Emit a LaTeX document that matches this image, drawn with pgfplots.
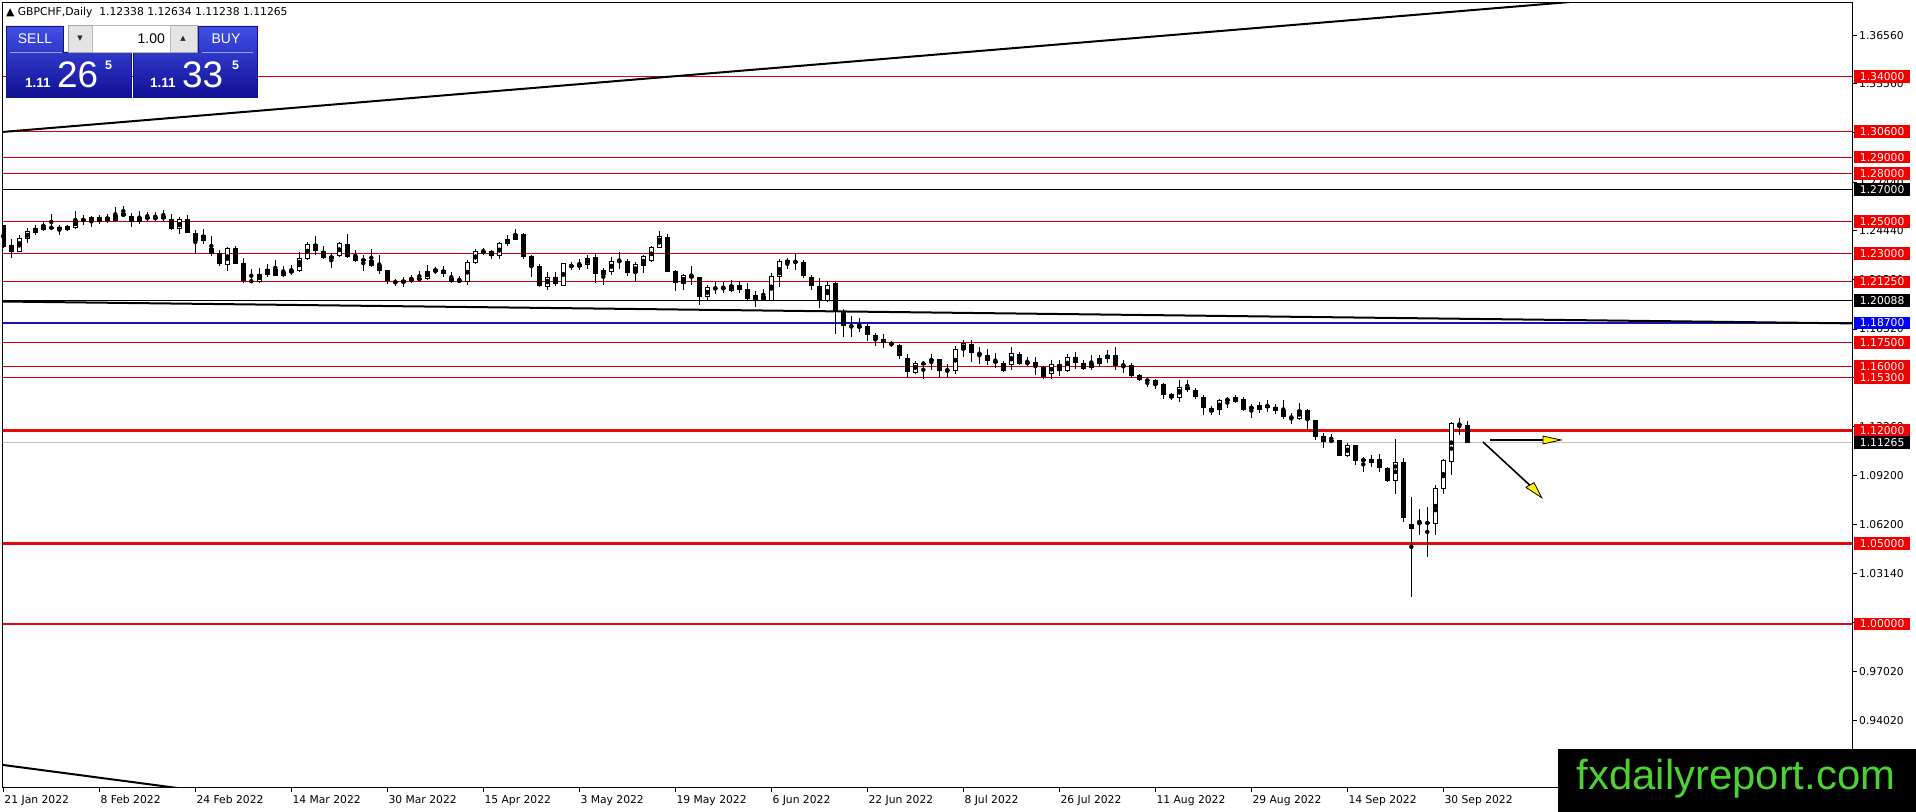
\documentclass[border=0pt]{standalone}
\usepackage{pgfplots}
\pgfplotsset{compat=1.18}
\usepackage{pgfplotstable}
\usepackage{fontspec}
\setmainfont{DejaVu Sans}
\newfontfamily\arialfont{Liberation Sans}
\definecolor{thinred}{RGB}{215,0,0}
\definecolor{thickred}{RGB}{228,10,10}
\definecolor{labred}{RGB}{240,0,0}
\definecolor{labblue}{RGB}{0,0,255}
\definecolor{lineblue}{RGB}{20,20,190}
\definecolor{bidgray}{RGB}{192,192,192}
\definecolor{paneltop}{RGB}{66,80,232}
\definecolor{panelbot}{RGB}{16,16,148}
\definecolor{paneledge}{RGB}{20,20,120}
\definecolor{sepblue}{RGB}{150,160,250}
\definecolor{ctrlfill}{RGB}{228,228,228}
\definecolor{ctrledge}{RGB}{165,165,165}
\definecolor{fieldedge}{RGB}{185,185,185}
\definecolor{arrowgray}{RGB}{40,40,40}
\definecolor{logogreen}{RGB}{75,210,50}
\newcommand{\pxfont}{\fontsize{10.8}{13}\selectfont}

\pgfplotstableread{
i o h l c
0 1.2476 1.2480 1.2336 1.2342
1 1.2352 1.2393 1.2276 1.2311
2 1.2311 1.2418 1.2311 1.2393
3 1.2393 1.2459 1.2366 1.2439
4 1.2434 1.2480 1.2418 1.2459
5 1.2451 1.2506 1.2439 1.2476
6 1.2465 1.2548 1.2447 1.2457
7 1.2465 1.2480 1.2418 1.2447
8 1.2449 1.2480 1.2443 1.2467
9 1.2465 1.2564 1.2455 1.2506
10 1.2513 1.2542 1.2480 1.2504
11 1.2531 1.2537 1.2465 1.2500
12 1.2500 1.2542 1.2484 1.2525
13 1.2525 1.2548 1.2492 1.2502
14 1.2506 1.2593 1.2496 1.2537
15 1.2537 1.2599 1.2529 1.2548
16 1.2537 1.2554 1.2465 1.2496
17 1.2500 1.2564 1.2484 1.2523
18 1.2523 1.2562 1.2504 1.2521
19 1.2521 1.2558 1.2502 1.2523
20 1.2531 1.2574 1.2506 1.2517
21 1.2517 1.2544 1.2445 1.2451
22 1.2455 1.2531 1.2424 1.2511
23 1.2513 1.2542 1.2428 1.2430
24 1.2430 1.2445 1.2300 1.2379
25 1.2383 1.2455 1.2358 1.2410
26 1.2338 1.2410 1.2286 1.2300
27 1.2307 1.2321 1.2224 1.2233
28 1.2233 1.2342 1.2195 1.2331
29 1.2336 1.2346 1.2235 1.2239
30 1.2243 1.2274 1.2121 1.2130
31 1.2132 1.2208 1.2119 1.2127
32 1.2130 1.2212 1.2115 1.2171
33 1.2171 1.2233 1.2156 1.2204
34 1.2204 1.2263 1.2161 1.2163
35 1.2163 1.2224 1.2156 1.2183
36 1.2181 1.2228 1.2167 1.2198
37 1.2193 1.2311 1.2187 1.2269
38 1.2269 1.2372 1.2263 1.2356
39 1.2358 1.2413 1.2290 1.2317
40 1.2317 1.2345 1.2269 1.2275
41 1.2269 1.2304 1.2214 1.2284
42 1.2286 1.2372 1.2280 1.2362
43 1.2362 1.2420 1.2275 1.2280
44 1.2284 1.2325 1.2249 1.2255
45 1.2263 1.2290 1.2193 1.2259
46 1.2263 1.2331 1.2218 1.2222
47 1.2228 1.2290 1.2177 1.2193
48 1.2197 1.2201 1.2111 1.2129
49 1.2129 1.2146 1.2098 1.2119
50 1.2119 1.2156 1.2094 1.2135
51 1.2131 1.2166 1.2121 1.2146
52 1.2142 1.2191 1.2129 1.2144
53 1.2146 1.2228 1.2135 1.2191
54 1.2187 1.2218 1.2177 1.2201
55 1.2201 1.2222 1.2156 1.2177
56 1.2146 1.2187 1.2121 1.2125
57 1.2131 1.2160 1.2115 1.2133
58 1.2129 1.2263 1.2105 1.2243
59 1.2245 1.2331 1.2234 1.2311
60 1.2311 1.2337 1.2294 1.2313
61 1.2315 1.2325 1.2269 1.2286
62 1.2286 1.2372 1.2269 1.2362
63 1.2362 1.2413 1.2345 1.2387
64 1.2387 1.2451 1.2383 1.2420
65 1.2424 1.2428 1.2269 1.2280
66 1.2284 1.2290 1.2156 1.2218
67 1.2222 1.2238 1.2094 1.2098
68 1.2098 1.2187 1.2074 1.2150
69 1.2156 1.2187 1.2098 1.2111
70 1.2105 1.2243 1.2098 1.2238
71 1.2222 1.2249 1.2201 1.2224
72 1.2218 1.2269 1.2201 1.2234
73 1.2232 1.2294 1.2208 1.2273
74 1.2277 1.2302 1.2115 1.2173
75 1.2173 1.2209 1.2105 1.2194
76 1.2192 1.2281 1.2167 1.2250
77 1.2256 1.2312 1.2204 1.2250
78 1.2256 1.2267 1.2161 1.2182
79 1.2182 1.2250 1.2122 1.2233
80 1.2229 1.2291 1.2182 1.2281
81 1.2260 1.2349 1.2250 1.2337
82 1.2337 1.2440 1.2333 1.2405
83 1.2405 1.2420 1.2188 1.2188
84 1.2194 1.2198 1.2068 1.2120
85 1.2115 1.2173 1.2074 1.2167
86 1.2167 1.2225 1.2105 1.2147
87 1.2153 1.2157 1.1981 1.2029
88 1.2033 1.2105 1.2012 1.2089
89 1.2089 1.2122 1.2047 1.2080
90 1.2089 1.2126 1.2053 1.2080
91 1.2074 1.2136 1.2060 1.2105
92 1.2105 1.2132 1.2053 1.2074
93 1.2078 1.2120 1.2012 1.2018
94 1.2018 1.2068 1.1966 1.2039
95 1.2039 1.2078 1.2012 1.2012
96 1.2012 1.2178 1.2012 1.2157
97 1.2157 1.2267 1.2091 1.2250
98 1.2244 1.2271 1.2204 1.2256
99 1.2256 1.2298 1.2198 1.2244
100 1.2246 1.2260 1.2147 1.2161
101 1.2157 1.2167 1.2074 1.2101
102 1.2101 1.2147 1.1960 1.2008
103 1.2008 1.2132 1.2002 1.2105
104 1.2115 1.2122 1.1799 1.1940
105 1.1940 1.1954 1.1784 1.1850
106 1.1853 1.1915 1.1780 1.1846
107 1.1846 1.1898 1.1815 1.1848
108 1.1850 1.1863 1.1759 1.1795
109 1.1795 1.1809 1.1726 1.1764
110 1.1768 1.1799 1.1716 1.1747
111 1.1747 1.1756 1.1721 1.1735
112 1.1731 1.1737 1.1648 1.1663
113 1.1654 1.1679 1.1534 1.1565
114 1.1565 1.1634 1.1555 1.1621
115 1.1623 1.1634 1.1524 1.1613
116 1.1636 1.1675 1.1580 1.1640
117 1.1644 1.1648 1.1534 1.1572
118 1.1574 1.1613 1.1534 1.1576
119 1.1572 1.1725 1.1555 1.1704
120 1.1704 1.1762 1.1658 1.1741
121 1.1737 1.1762 1.1627 1.1683
122 1.1685 1.1721 1.1617 1.1673
123 1.1669 1.1710 1.1607 1.1634
124 1.1634 1.1683 1.1590 1.1623
125 1.1623 1.1634 1.1565 1.1572
126 1.1611 1.1721 1.1580 1.1679
127 1.1679 1.1690 1.1607 1.1613
128 1.1617 1.1658 1.1600 1.1627
129 1.1627 1.1658 1.1545 1.1600
130 1.1596 1.1600 1.1524 1.1534
131 1.1555 1.1642 1.1524 1.1611
132 1.1613 1.1642 1.1543 1.1572
133 1.1572 1.1679 1.1565 1.1658
134 1.1658 1.1690 1.1586 1.1621
135 1.1621 1.1638 1.1580 1.1586
136 1.1596 1.1669 1.1580 1.1621
137 1.1621 1.1669 1.1600 1.1648
138 1.1652 1.1700 1.1621 1.1669
139 1.1669 1.1721 1.1580 1.1600
140 1.1605 1.1642 1.1559 1.1607
141 1.1607 1.1621 1.1528 1.1541
142 1.1545 1.1555 1.1509 1.1518
143 1.1518 1.1524 1.1472 1.1509
144 1.1514 1.1520 1.1458 1.1487
145 1.1493 1.1499 1.1396 1.1425
146 1.1431 1.1435 1.1389 1.1404
147 1.1406 1.1514 1.1379 1.1472
148 1.1472 1.1518 1.1440 1.1456
149 1.1456 1.1468 1.1395 1.1410
150 1.1410 1.1425 1.1297 1.1344
151 1.1322 1.1353 1.1297 1.1338
152 1.1332 1.1400 1.1297 1.1390
153 1.1390 1.1410 1.1340 1.1395
154 1.1385 1.1420 1.1375 1.1405
155 1.1400 1.1410 1.1324 1.1332
156 1.1340 1.1369 1.1282 1.1344
157 1.1332 1.1380 1.1311 1.1359
158 1.1359 1.1390 1.1318 1.1344
159 1.1349 1.1369 1.1307 1.1324
160 1.1328 1.1390 1.1276 1.1287
161 1.1285 1.1311 1.1241 1.1282
162 1.1276 1.1373 1.1270 1.1328
163 1.1328 1.1338 1.1208 1.1266
164 1.1266 1.1270 1.1142 1.1162
165 1.1166 1.1187 1.1096 1.1131
166 1.1142 1.1177 1.1125 1.1131
167 1.1142 1.1146 1.1042 1.1044
168 1.1044 1.1127 1.1038 1.1111
169 1.1111 1.1111 1.0986 1.1011
170 1.1015 1.1038 1.0945 1.1019
171 1.1003 1.1048 1.0976 1.1024
172 1.1024 1.1059 1.0945 1.0966
173 1.0970 1.0976 1.0883 1.0887
174 1.0889 1.1146 1.0810 1.1001
175 1.1007 1.1028 1.0634 1.0659
176 1.0593 1.0790 1.0169 1.0618
177 1.0626 1.0717 1.0552 1.0630
178 1.0630 1.0728 1.0417 1.0626
179 1.0624 1.0862 1.0552 1.0841
180 1.0841 1.1028 1.0810 1.1017
181 1.1007 1.1255 1.0924 1.1245
182 1.1241 1.1282 1.1177 1.1238
183 1.12338 1.12634 1.11238 1.11265
}\candles

\tikzset{plab/.style={anchor=west, inner xsep=5bp, inner ysep=2.4bp, text height=7.9bp, text depth=0bp, text=white, font=\pxfont, minimum width=56bp}}

\begin{document}
\begin{tikzpicture}
\useasboundingbox (0,0) rectangle (1916bp,812bp);
\begin{axis}[
  at={(2.7bp,24bp)}, anchor=south west,
  scale only axis, width=1849.3bp, height=785.5bp,
  xmin=-0.075, xmax=231.09, ymin=0.898137, ymax=1.386025,
  axis line style={black, line width=1bp},
  tick align=outside, major tick length=4.5bp,
  tick style={black, line width=1bp},
  xtick pos=left, ytick pos=right,
  xtick={0,12,...,180},
  xticklabels={21 Jan 2022,8 Feb 2022,24 Feb 2022,14 Mar 2022,30 Mar 2022,15 Apr 2022,3 May 2022,19 May 2022,6 Jun 2022,22 Jun 2022,8 Jul 2022,26 Jul 2022,11 Aug 2022,29 Aug 2022,14 Sep 2022,30 Sep 2022},
  ytick={0.9402,0.9702,1.0008,1.0314,1.062,1.092,1.1226,1.1532,1.1832,1.2138,1.2444,1.2744,1.305,1.3356,1.3656},
  yticklabels={0.94020,0.97020,1.00080,1.03140,1.06200,1.09200,1.12260,1.15320,1.18320,1.21380,1.24440,1.27440,1.30500,1.33560,1.36560},
  tick label style={font=\pxfont, black},
  xticklabel style={anchor=north west, inner sep=0pt, xshift=1bp, yshift=-2.5bp},
  yticklabel style={anchor=west, inner sep=0pt, xshift=2.5bp},
]
% horizontal levels
\addplot[thinred, line width=1bp, forget plot] coordinates {(-2,1.34) (240,1.34)};
\addplot[thinred, line width=1bp, forget plot] coordinates {(-2,1.306) (240,1.306)};
\addplot[thinred, line width=1bp, forget plot] coordinates {(-2,1.29) (240,1.29)};
\addplot[thinred, line width=1bp, forget plot] coordinates {(-2,1.28) (240,1.28)};
\addplot[black, line width=1bp, forget plot] coordinates {(-2,1.27) (240,1.27)};
\addplot[thinred, line width=1bp, forget plot] coordinates {(-2,1.25) (240,1.25)};
\addplot[thinred, line width=1bp, forget plot] coordinates {(-2,1.23) (240,1.23)};
\addplot[thinred, line width=1bp, forget plot] coordinates {(-2,1.2125) (240,1.2125)};
\addplot[black, line width=1bp, forget plot] coordinates {(-2,1.20088) (240,1.20088)};
\addplot[lineblue, line width=1.2bp, forget plot] coordinates {(-2,1.187) (240,1.187)};
\addplot[thinred, line width=1bp, forget plot] coordinates {(-2,1.175) (240,1.175)};
\addplot[thinred, line width=1bp, forget plot] coordinates {(-2,1.16) (240,1.16)};
\addplot[thinred, line width=1bp, forget plot] coordinates {(-2,1.153) (240,1.153)};
\addplot[thickred, line width=2.6bp, forget plot] coordinates {(-2,1.12) (240,1.12)};
\addplot[bidgray, line width=1bp, forget plot] coordinates {(-2,1.11265) (240,1.11265)};
\addplot[thickred, line width=2.6bp, forget plot] coordinates {(-2,1.05) (240,1.05)};
\addplot[thickred, line width=2.6bp, forget plot] coordinates {(-2,1.00) (240,1.00)};
% trend lines
\addplot[black, line width=2bp, forget plot] coordinates {(-0.1,1.3056) (200,1.38804)};
\addplot[black, line width=2bp, forget plot] coordinates {(-0.1,1.2003) (231.2,1.1867)};
\addplot[black, line width=2bp, forget plot] coordinates {(-0.1,0.91249) (25,0.89600)};
% wicks
\addplot[only marks, mark=none, forget plot,
  error bars/.cd, y dir=both, y explicit, error mark=none,
  error bar style={line width=1bp, black}]
  table[x=i, y expr={(\thisrow{h}+\thisrow{l})/2}, y error expr={(\thisrow{h}-\thisrow{l})/2}] {\candles};
% bearish bodies
\addplot[only marks, mark=none, forget plot,
  restrict expr to domain={\thisrow{o}-\thisrow{c}}{0:1},
  error bars/.cd, y dir=both, y explicit, error mark=none,
  error bar style={line width=4.6bp, black}]
  table[x=i, y expr={(\thisrow{o}+\thisrow{c})/2}, y error expr={max(abs(\thisrow{o}-\thisrow{c})/2,0.00031)}] {\candles};
% bullish bodies: outline then white fill
\addplot[only marks, mark=none, forget plot,
  restrict expr to domain={\thisrow{c}-\thisrow{o}}{0.00001:1},
  error bars/.cd, y dir=both, y explicit, error mark=none,
  error bar style={line width=4.6bp, black}]
  table[x=i, y expr={(\thisrow{o}+\thisrow{c})/2}, y error expr={(\thisrow{c}-\thisrow{o})/2+0.00031}] {\candles};
\addplot[only marks, mark=none, forget plot,
  restrict expr to domain={\thisrow{c}-\thisrow{o}}{0.00001:1},
  error bars/.cd, y dir=both, y explicit, error mark=none,
  error bar style={line width=2.6bp, white}]
  table[x=i, y expr={(\thisrow{o}+\thisrow{c})/2}, y error expr={max((\thisrow{c}-\thisrow{o})/2-0.00031,0)}] {\candles};
% arrows
\addplot[black, line width=1.6bp, forget plot] coordinates {(185.84,1.11429) (192.6,1.11429)};
\addplot[black, line width=0.8bp, fill=yellow, line join=miter, forget plot] coordinates {(192.46,1.11677) (194.71,1.11429) (192.46,1.11180) (192.46,1.11677)};
\addplot[black, line width=1.6bp, forget plot] coordinates {(184.96,1.11304) (190.9,1.0858)};
\addplot[black, line width=0.8bp, fill=yellow, line join=miter, forget plot] coordinates {(190.30,1.08491) (192.30,1.07845) (191.34,1.08776) (190.30,1.08491)};
\end{axis}

\begin{scope}[yshift=812bp, x=1bp, y=-1bp]
% price labels
\node[plab, fill=labred] at (1854,76.6) {1.34000};
\node[plab, fill=labred] at (1854,131.3) {1.30600};
\node[plab, fill=labred] at (1854,157.1) {1.29000};
\node[plab, fill=labred] at (1854,173.2) {1.28000};
\node[plab, fill=black] at (1854,189.3) {1.27000};
\node[plab, fill=labred] at (1854,221.5) {1.25000};
\node[plab, fill=labred] at (1854,253.7) {1.23000};
\node[plab, fill=labred] at (1854,281.9) {1.21250};
\node[plab, fill=black] at (1854,300.6) {1.20088};
\node[plab, fill=labblue] at (1854,322.9) {1.18700};
\node[plab, fill=labred] at (1854,342.25) {1.17500};
\node[plab, fill=labred] at (1854,366.4) {1.16000};
\node[plab, fill=labred] at (1854,377.7) {1.15300};
\node[plab, fill=labred] at (1854,430.8) {1.12000};
\node[plab, fill=black] at (1854,442.6) {1.11265};
\node[plab, fill=labred] at (1854,543.5) {1.05000};
\node[plab, fill=labred] at (1854,624) {1.00000};
% header
\node[anchor=west, inner sep=0pt, font=\pxfont] at (6,13) {▲ GBPCHF,Daily\ \ 1.12338 1.12634 1.11238 1.11265};
% trading panel
\shadedraw[top color=paneltop, bottom color=panelbot, draw=paneledge, line width=0.8bp]
  (6,26) -- (63,26) -- (63,52) -- (131,52) -- (131,97) -- (6,97) -- cycle;
\shadedraw[top color=paneltop, bottom color=panelbot, draw=paneledge, line width=0.8bp]
  (198,26) -- (257,26) -- (257,97) -- (133,97) -- (133,52) -- (198,52) -- cycle;
\draw[draw=sepblue, line width=0.8bp] (10,52) -- (62,52);
\draw[draw=sepblue, line width=0.8bp] (202,52) -- (253,52);
\draw[fill=ctrlfill, draw=ctrledge, line width=0.8bp] (68,25) rectangle (197,52);
\draw[fill=white, draw=fieldedge, line width=0.8bp] (92,25) rectangle (170,52);
\node[font=\fontsize{7}{7}\selectfont, inner sep=0pt, text=arrowgray] at (80,38.5) {▼};
\node[font=\fontsize{7}{7}\selectfont, inner sep=0pt, text=arrowgray] at (183,38.5) {▲};
\node[anchor=east, inner sep=0pt, font=\arialfont\fontsize{14}{14}\selectfont] at (165,38.5) {1.00};
\node[inner sep=0pt, text=white, font=\arialfont\fontsize{14}{14}\selectfont] at (35,39) {SELL};
\node[inner sep=0pt, text=white, font=\arialfont\fontsize{14}{14}\selectfont] at (226,39) {BUY};
\node[anchor=base west, inner sep=0pt, text=white, font=\arialfont\bfseries\fontsize{13.5}{13.5}\selectfont] at (25,87.5) {1.11};
\node[anchor=base west, inner sep=0pt, text=white, font=\arialfont\fontsize{37}{37}\selectfont] at (57,87.5) {26};
\node[anchor=base west, inner sep=0pt, text=white, font=\arialfont\bfseries\fontsize{12.5}{12.5}\selectfont] at (105,70) {5};
\node[anchor=base west, inner sep=0pt, text=white, font=\arialfont\bfseries\fontsize{13.5}{13.5}\selectfont] at (150,87.5) {1.11};
\node[anchor=base west, inner sep=0pt, text=white, font=\arialfont\fontsize{37}{37}\selectfont] at (182,87.5) {33};
\node[anchor=base west, inner sep=0pt, text=white, font=\arialfont\bfseries\fontsize{12.5}{12.5}\selectfont] at (232,70) {5};
% logo
\fill[black] (1558,749) rectangle (1916,812);
\node[anchor=base, inner sep=0pt, text=logogreen, font=\arialfont\fontsize{42}{42}\selectfont] at (1736,790) {fxdailyreport.com};
\end{scope}
\end{tikzpicture}
\end{document}
